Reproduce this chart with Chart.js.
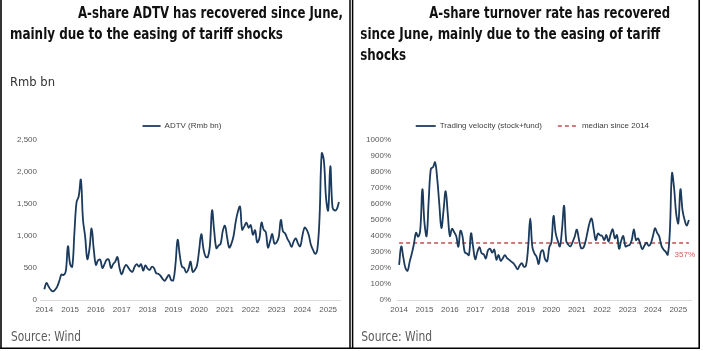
<!DOCTYPE html>
<html><head><meta charset="utf-8">
<script src="https://cdn.jsdelivr.net/npm/chart.js@4.4.1/dist/chart.umd.min.js"></script>
<style>
html,body{margin:0;padding:0;background:#fff;}
body{width:703px;height:351px;position:relative;overflow:hidden;}
canvas{position:absolute;}
#overlay{position:absolute;left:0;top:0;pointer-events:none;}
.title{font-family:"Liberation Sans Narrow","DejaVu Sans Condensed","Liberation Sans",sans-serif;font-weight:bold;font-size:16px;fill:#111;}
.note{font-family:"Liberation Sans Narrow","DejaVu Sans Condensed","Liberation Sans",sans-serif;font-size:13px;fill:#333;}
.src{font-family:"Liberation Sans Narrow","DejaVu Sans Condensed","Liberation Sans",sans-serif;font-size:13.5px;fill:#595959;}
</style></head><body>
<canvas id="c1" width="350" height="214" style="left:0;top:106px"></canvas>
<canvas id="c2" width="348" height="214" style="left:352px;top:106px"></canvas>
<svg id="overlay" width="703" height="351">
  <text class="title" x="78" y="18.3" textLength="265" lengthAdjust="spacingAndGlyphs">A-share ADTV has recovered since June,</text>
  <text class="title" x="10" y="39" textLength="273" lengthAdjust="spacingAndGlyphs">mainly due to the easing of tariff shocks</text>
  <text class="note" x="10" y="86" textLength="45" lengthAdjust="spacingAndGlyphs">Rmb bn</text>
  <text class="src" x="11" y="340.7" textLength="70" lengthAdjust="spacingAndGlyphs">Source: Wind</text>
  <text class="title" x="429.3" y="18.3" textLength="240.7" lengthAdjust="spacingAndGlyphs">A-share turnover rate has recovered</text>
  <text class="title" x="360.3" y="39" textLength="300" lengthAdjust="spacingAndGlyphs">since June, mainly due to the easing of tariff</text>
  <text class="title" x="360.3" y="60" textLength="45.7" lengthAdjust="spacingAndGlyphs">shocks</text>
  <text class="src" x="361.3" y="340.7" textLength="70.7" lengthAdjust="spacingAndGlyphs">Source: Wind</text>
  <line x1="1" y1="0" x2="1" y2="349" stroke="#000" stroke-width="1.6"/>
  <line x1="350" y1="0" x2="350" y2="349" stroke="#000" stroke-width="1.5"/>
  <line x1="352.6" y1="0" x2="352.6" y2="349" stroke="#000" stroke-width="1.5"/>
  <line x1="699.2" y1="0" x2="699.2" y2="349" stroke="#000" stroke-width="1.6"/>
  <line x1="0" y1="348.2" x2="700" y2="348.2" stroke="#000" stroke-width="1.6"/>
</svg>
<script>
// ---- data (monthly, Jan 2014 - Jun 2025) ----
const years = ['2014','2015','2016','2017','2018','2019','2020','2021','2022','2023','2024','2025'];
const months = [];
for (const y of years) { for (let m = 1; m <= 12; m++) { if (y === '2025' && m > 6) break; months.push(y + '-' + String(m).padStart(2, '0')); } }

const adtv = [
  167, 265, 210, 160, 135, 160, 210, 300, 400, 390, 450, 840,
  560, 520, 1050, 1530, 1620, 1880, 1250, 990, 640, 800, 1120, 790,
  550, 620, 630, 500, 560, 630, 630, 500, 560, 600, 670, 500,
  400, 490, 550, 510, 460, 440, 520, 560, 520, 560, 460, 540,
  490, 470, 520, 500, 420, 410, 380, 330, 300, 350, 390, 310,
  310, 560, 940, 700, 520, 500, 430, 480, 600, 440, 470, 540,
  780, 1030, 800, 680, 670, 850, 1400, 1080, 810, 850, 880, 1080,
  1160, 980, 820, 880, 1000, 1220, 1380, 1460, 1100, 1150, 1210, 1130,
  1170, 1020, 1090, 900, 960, 1210, 1100, 1060, 820, 920, 1030, 880,
  900, 980, 1250, 1070, 1040, 960, 900, 830, 920, 960, 880, 840,
  1000, 1130, 1100, 1010, 860, 780, 720, 800, 1300, 2290, 2180, 1600,
  1400, 2090, 1450, 1400, 1420, 1530
];
const velocity = [
  219, 335, 265, 200, 183, 240, 290, 350, 420, 396, 440, 692,
  480, 400, 625, 820, 830, 860, 760, 600, 450, 560, 680, 540,
  400, 445, 425, 400, 333, 433, 396, 300, 290, 281, 417, 330,
  255, 300, 330, 292, 285, 260, 310, 320, 296, 315, 252, 282,
  245, 260, 281, 262, 252, 240, 230, 212, 192, 215, 230, 208,
  215, 330, 510, 330, 290, 270, 225, 300, 310, 255, 242, 330,
  360, 525, 420, 370, 335, 440, 588, 370, 345, 335, 362, 395,
  440, 380, 325, 325, 360, 420, 480, 510, 440, 375, 415, 405,
  400, 375, 406, 365, 410, 442, 385, 406, 320, 370, 400, 335,
  340, 344, 375, 442, 375, 385, 350, 318, 340, 358, 338, 354,
  400, 448, 420, 396, 340, 315, 302, 283, 430, 792, 700, 540,
  480, 692, 560, 500, 465, 500
];
const medianSince2014 = 357;
const adtvLabel = 'ADTV (Rmb bn)';
const velocityLabel = 'Trading velocity (stock+fund)';
const medianLabel = 'median since 2014';

// ---- styling ----
const NAVY = '#1B3A5C';
const RED = '#C0504D';
const FONT = '"Liberation Sans", Arial, sans-serif';
Chart.defaults.font.family = FONT;
Chart.defaults.font.size = 8;
Chart.defaults.color = '#595959';

const yearTickValues = years.map(y => months.indexOf(y + '-01'));
const toPoints = arr => arr.map((v, i) => ({ x: i, y: v }));

const legendShift = {
  id: 'legendShift',
  afterLayout(chart, args, opts) {
    const lg = chart.legend;
    if (!lg || opts.center == null) return;
    const dx = opts.center - (lg.left + lg.right) / 2;
    lg.left += dx; lg.right += dx;
  }
};
const medianTag = {
  id: 'medianTag',
  afterDatasetsDraw(chart, args, opts) {
    if (opts.value == null) return;
    const { ctx, chartArea, scales } = chart;
    const y = scales.y.getPixelForValue(opts.value);
    ctx.save();
    ctx.font = '8px ' + FONT;
    ctx.fillStyle = '#D0605C';
    ctx.textAlign = 'right';
    ctx.textBaseline = 'middle';
    ctx.fillText(opts.value + '%', chartArea.right + 4, y + 12);
    ctx.restore();
  }
};

function xScale(min, max) {
  return {
    type: 'linear', min, max,
    grid: { display: false, drawTicks: false },
    border: { display: true, color: '#D9D9D9', width: 1 },
    afterBuildTicks: s => { s.ticks = yearTickValues.map(v => ({ value: v })); },
    ticks: {
      autoSkip: false, maxRotation: 0, padding: 6,
      font: { size: 8, lineHeight: 1 },
      callback: v => years[yearTickValues.indexOf(v)]
    }
  };
}
function yScale(max, step, fmt, width, pad) {
  return {
    min: 0, max,
    grid: { display: false, drawTicks: false },
    border: { display: false },
    afterFit: s => { s.width = width; },
    ticks: { stepSize: step, padding: pad, font: { size: 8, lineHeight: 1 }, callback: fmt }
  };
}
function legendOpts(w) {
  return {
    display: true, position: 'top',
    labels: {
      usePointStyle: true, pointStyle: 'line', pointStyleWidth: w,
      padding: 16, color: '#404040', font: { size: 8 },
      generateLabels: chart => {
        const items = Chart.defaults.plugins.legend.labels.generateLabels(chart);
        items.forEach(it => {
          const ds = chart.data.datasets[it.datasetIndex];
          it.lineDash = ds.borderDash || [];
          it.lineWidth = ds.borderWidth;
          it.strokeStyle = ds.borderColor;
        });
        return items;
      }
    }
  };
}

new Chart(document.getElementById('c1'), {
  type: 'line',
  data: {
    datasets: [{
      label: adtvLabel, data: toPoints(adtv),
      borderColor: NAVY, backgroundColor: NAVY, borderWidth: 1.8,
      pointRadius: 0, tension: 0.4, fill: false
    }]
  },
  options: {
    responsive: false, animation: false, devicePixelRatio: 1,
    layout: { padding: { top: 0, right: 10, bottom: 0, left: 0 } },
    scales: {
      x: xScale(-2, 137.5),
      y: yScale(2500, 500, v => v.toLocaleString('en-US'), 40, 3)
    },
    plugins: {
      legend: legendOpts(18),
      legendShift: { center: 182 },
      tooltip: { enabled: false }
    }
  },
  plugins: [legendShift]
});

new Chart(document.getElementById('c2'), {
  type: 'line',
  data: {
    datasets: [{
      label: velocityLabel, data: toPoints(velocity),
      borderColor: NAVY, backgroundColor: NAVY, borderWidth: 1.8,
      pointRadius: 0, tension: 0.4, fill: false
    }, {
      label: medianLabel,
      data: [{ x: 0, y: medianSince2014 }, { x: months.length - 1, y: medianSince2014 }],
      borderColor: RED, backgroundColor: RED, borderWidth: 1.5, borderDash: [4, 3],
      pointRadius: 0, tension: 0, fill: false
    }]
  },
  options: {
    responsive: false, animation: false, devicePixelRatio: 1,
    layout: { padding: { top: 0, right: 9, bottom: 0, left: 0 } },
    scales: {
      x: xScale(-1, 138),
      y: yScale(1000, 100, v => v + '%', 45, 6)
    },
    plugins: {
      legend: legendOpts(20),
      legendShift: { center: 180.4 },
      medianTag: { value: medianSince2014 },
      tooltip: { enabled: false }
    }
  },
  plugins: [legendShift, medianTag]
});
</script>
</body></html>
